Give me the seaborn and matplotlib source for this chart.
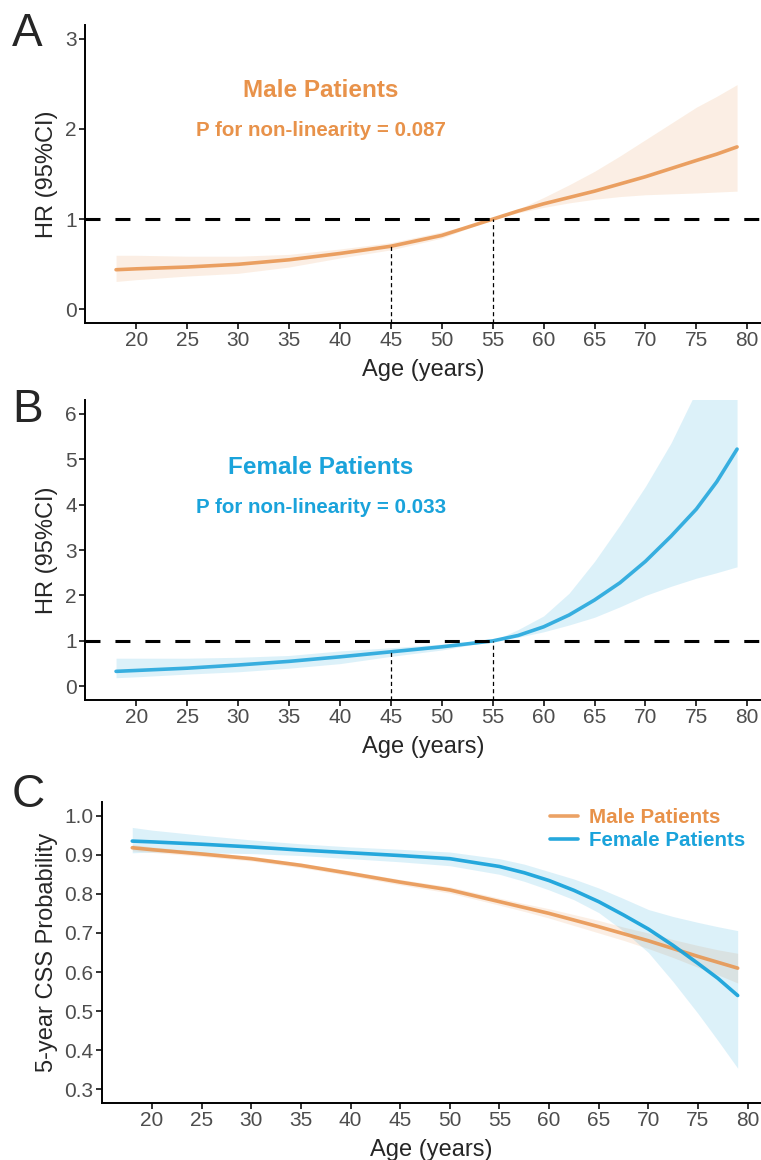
import pandas as pd
import seaborn as sns
import matplotlib.pyplot as plt

age = [18, 20, 25, 30, 35, 40, 45, 50, 55, 57.5, 60, 62.5, 65, 67.5, 70, 72.5, 75, 77, 79]

# panel A - male HR with 95% CI
male_hr = [0.44, 0.45, 0.47, 0.50, 0.55, 0.62, 0.70, 0.82, 1.00, 1.09, 1.17, 1.24, 1.31,
           1.39, 1.47, 1.56, 1.65, 1.72, 1.80]
male_hr_lo = [0.31, 0.33, 0.37, 0.40, 0.47, 0.57, 0.66, 0.79, 1.00, 1.07, 1.13, 1.18, 1.22,
              1.25, 1.27, 1.28, 1.29, 1.30, 1.31]
male_hr_hi = [0.60, 0.60, 0.59, 0.59, 0.61, 0.67, 0.74, 0.86, 1.00, 1.11, 1.24, 1.38, 1.53,
              1.70, 1.88, 2.06, 2.24, 2.36, 2.49]

# panel B - female HR with 95% CI
female_hr = [0.33, 0.35, 0.40, 0.47, 0.55, 0.65, 0.76, 0.87, 1.00, 1.12, 1.31, 1.57, 1.90,
             2.28, 2.75, 3.30, 3.90, 4.50, 5.22]
female_hr_lo = [0.19, 0.21, 0.27, 0.32, 0.40, 0.50, 0.66, 0.80, 1.00, 1.08, 1.20, 1.35, 1.52,
                1.75, 2.00, 2.20, 2.38, 2.50, 2.63]
female_hr_hi = [0.62, 0.62, 0.62, 0.64, 0.68, 0.78, 0.85, 0.93, 1.00, 1.25, 1.55, 2.05, 2.75,
                3.55, 4.40, 5.35, 6.50, 7.50, 8.50]

# panel C - 5-year CSS probability
male_css = [0.918, 0.913, 0.902, 0.890, 0.873, 0.852, 0.830, 0.810, 0.780, 0.765, 0.750,
            0.733, 0.716, 0.698, 0.680, 0.660, 0.640, 0.625, 0.610]
male_css_lo = [0.910, 0.906, 0.896, 0.884, 0.867, 0.846, 0.823, 0.802, 0.771, 0.755, 0.738,
               0.719, 0.700, 0.681, 0.660, 0.637, 0.612, 0.593, 0.572]
male_css_hi = [0.926, 0.920, 0.908, 0.896, 0.879, 0.858, 0.837, 0.818, 0.789, 0.775, 0.762,
               0.747, 0.732, 0.715, 0.700, 0.683, 0.668, 0.657, 0.648]
female_css = [0.935, 0.933, 0.927, 0.920, 0.912, 0.905, 0.898, 0.890, 0.870, 0.854, 0.834,
              0.809, 0.780, 0.746, 0.710, 0.668, 0.622, 0.584, 0.540]
female_css_lo = [0.905, 0.907, 0.905, 0.903, 0.898, 0.890, 0.882, 0.872, 0.850, 0.832, 0.810,
                 0.785, 0.752, 0.705, 0.650, 0.575, 0.494, 0.425, 0.354]
female_css_hi = [0.970, 0.963, 0.950, 0.938, 0.928, 0.920, 0.914, 0.907, 0.890, 0.876, 0.857,
                 0.838, 0.815, 0.788, 0.760, 0.742, 0.727, 0.716, 0.706]

ref_ages = [45, 55]
hr_ticks = [[0, 1, 2, 3], [0, 1, 2, 3, 4, 5, 6]]
css_ticks = [0.3, 0.4, 0.5, 0.6, 0.7, 0.8, 0.9, 1.0]
css_labels = ['0.3', '0.4', '0.5', '0.6', '0.7', '0.8', '0.9', '1.0']
x_ticks = [20, 25, 30, 35, 40, 45, 50, 55, 60, 65, 70, 75, 80]

df = pd.DataFrame({'age': age,
                   'male_hr': male_hr, 'female_hr': female_hr,
                   'male_css': male_css, 'female_css': female_css})

sns.set_style('ticks')
plt.rcParams['font.family'] = ['Liberation Sans', 'DejaVu Sans']

orange = '#E8924A'
blue = '#1AA3DB'
W, H = 761, 1160


def style(ax, yticks, ylim, ylabel):
    ax.set_xlim(14.95, 81.35)
    ax.set_ylim(*ylim)
    ax.set_xticks(x_ticks)
    ax.set_yticks(yticks)
    sns.despine(ax=ax)
    for s in ['left', 'bottom']:
        ax.spines[s].set_linewidth(1.4)
        ax.spines[s].set_color('black')
    ax.tick_params(length=4, width=1.4, color='#333333', labelsize=15,
                   labelcolor='#4D4D4D', pad=2)
    ax.set_xlabel('Age (years)', fontsize=17, labelpad=6)
    ax.set_ylabel(ylabel, fontsize=17, labelpad=5)


fig = plt.figure(figsize=(W / 100, H / 100), dpi=100)
axA = fig.add_axes([85 / W, 1 - 323 / H, 1 - 85 / W, (323 - 25) / H])
axB = fig.add_axes([85 / W, 1 - 700 / H, 1 - 85 / W, (700 - 400) / H])
axC = fig.add_axes([102 / W, 1 - 1103 / H, 1 - 102 / W, (1103 - 802) / H])

# HR panels
panels = [(axA, 'male_hr', male_hr_lo, male_hr_hi, orange, (-0.15, 3.15),
           'Male Patients', '0.087', (2.42, 1.98)),
          (axB, 'female_hr', female_hr_lo, female_hr_hi, blue, (-0.3, 6.3),
           'Female Patients', '0.033', (4.81, 3.94))]
for i, (ax, col, lo, hi, c, ylim, title, p, ty) in enumerate(panels):
    ax.fill_between(age, lo, hi, color=c, alpha=0.15, lw=0)
    sns.lineplot(data=df, x='age', y=col, ax=ax, color=c, lw=2.6, alpha=0.85)
    ax.axhline(1, color='black', lw=2.2, dashes=(4.9, 4.9))
    for ra in ref_ages:
        yv = df.loc[df['age'] == ra, col].values[0]
        ax.plot([ra, ra], [ylim[0], yv], color='black', lw=0.9, dashes=(3.3, 2.5))
    ax.text(38.1, ty[0], title, ha='center', va='center', color=c,
            fontsize=17.5, fontweight='bold')
    ax.text(38.1, ty[1], 'P for non-linearity = ' + p, ha='center', va='center',
            color=c, fontsize=14.8, fontweight='bold')
    style(ax, hr_ticks[i], ylim, 'HR (95%CI)')

# CSS panel
axC.fill_between(age, male_css_lo, male_css_hi, color=orange, alpha=0.15, lw=0)
axC.fill_between(age, female_css_lo, female_css_hi, color=blue, alpha=0.15, lw=0)
sns.lineplot(data=df, x='age', y='male_css', ax=axC, color=orange, lw=2.6,
             alpha=0.85, label='Male Patients')
sns.lineplot(data=df, x='age', y='female_css', ax=axC, color=blue, lw=2.6,
             alpha=0.95, label='Female Patients')
style(axC, css_ticks, (0.265, 1.035), '5-year CSS Probability')
axC.set_yticklabels(css_labels)
leg = axC.legend(loc='upper left', bbox_to_anchor=(550 / W, 1 - 808 / H),
                 bbox_transform=fig.transFigure, frameon=False,
                 prop={'size': 14.8, 'weight': 'bold'}, labelcolor='linecolor',
                 handlelength=1.36, handletextpad=0.53, labelspacing=0.2,
                 borderpad=0, borderaxespad=0)

# panel letters
for letter, y in [('A', 12), ('B', 388), ('C', 773)]:
    fig.text(12 / W, 1 - y / H, letter, fontsize=33, va='top', ha='left')

plt.savefig('out.png', dpi=100)
